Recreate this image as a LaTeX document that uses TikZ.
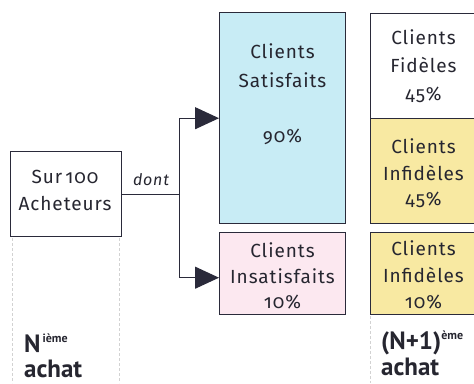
\documentclass[tikz,border=0pt]{standalone}
\usepackage{fontspec}
\setmainfont{Fira Sans}[LetterSpace=5,Numbers=OldStyle]
\newfontfamily\headfont{PT Sans}[BoldFont={PT Sans Bold}]
\usetikzlibrary{arrows.meta}
\definecolor{inkline}{HTML}{2A2A3A}
\definecolor{inktext}{HTML}{262630}
\definecolor{satblue}{HTML}{C8ECF5}
\definecolor{insatpink}{HTML}{FCE8F0}
\definecolor{infyellow}{HTML}{F8E9A2}
\tikzset{
  box/.style={draw=inkline, line width=1.4pt, inner sep=0pt, anchor=north west},
  txt/.style={text=inktext, font=\fontsize{19}{22}\selectfont, inner sep=0pt, anchor=base},
  head/.style={text=inktext, font=\headfont\bfseries\fontsize{25}{28}\selectfont, inner sep=0pt, anchor=base west},
  guide/.style={draw=gray!35, line width=0.6pt, dash pattern=on 3pt off 2pt},
  link/.style={draw=inkline, line width=1.1pt},
  tip/.style={-{Triangle[length=24pt,width=22pt]}}
}
\newcommand{\ordsup}[1]{\raisebox{10pt}{\fontsize{12}{14}\selectfont #1}}
\begin{document}
\begin{tikzpicture}[x=1pt,y=-1pt]
\useasboundingbox (0,0) rectangle (474,383);
\fill[white] (0,0) rectangle (474,383);

% faint guide lines under the columns
\draw[guide] (12,238) -- (12,383);
\draw[guide] (119,238) -- (119,383);
\draw[guide] (370,316) -- (370,383);

% boxes
\node[box, minimum width=111pt, minimum height=85pt] (sur) at (10,151) {};
\node[box, fill=satblue, minimum width=126pt, minimum height=211pt] (sat) at (219,12) {};
\node[box, fill=insatpink, minimum width=126pt, minimum height=82pt] (ins) at (219,232) {};
\begin{scope}
\clip (0,0) rectangle (474,383);
\node[box, fill=white, minimum width=110pt, minimum height=105pt] (fid) at (370,13) {};
\node[box, fill=infyellow, minimum width=110pt, minimum height=105pt] (inf) at (370,118) {};
\node[box, fill=infyellow, minimum width=110pt, minimum height=82pt] (inf2) at (370,232) {};
\end{scope}

% box texts (baselines)
\node[txt] at (65,183) {Sur\,100};
\node[txt] at (65,210) {Acheteurs};
\node[txt] at (282.5,58) {Clients};
\node[txt] at (282.5,87) {Satisfaits};
\node[txt] at (282.5,142) {90\%};
\node[txt] at (282.5,257) {Clients};
\node[txt] at (282.5,283) {Insatisfaits};
\node[txt] at (282.5,308) {10\%};
\node[txt] at (423.5,44) {Clients};
\node[txt] at (423.5,72) {Fidèles};
\node[txt] at (423.5,100) {45\%};
\node[txt] at (423.5,153) {Clients};
\node[txt] at (423.5,180) {Infidèles};
\node[txt] at (423.5,205) {45\%};
\node[txt] at (423.5,255) {Clients};
\node[txt] at (423.5,282) {Infidèles};
\node[txt] at (423.5,308) {10\%};

% connectors
\draw[link] (sur.east) -- ++(57,0) coordinate (fork);
\draw[link, tip] (fork) |- (sat.west);
\draw[link, tip] (fork) |- ([yshift=-4pt]ins.west);
\node[txt, font=\itshape\fontsize{16}{18}\selectfont] at (151,185) {dont};

% purchase labels
\node[head] at (24,352) {N\kern2pt\ordsup{ième}};
\node[head] at (24,377) {achat};
\node[head] at (381,349) {(N+1)\ordsup{ème}};
\node[head] at (381,375) {achat};
\end{tikzpicture}
\end{document}
